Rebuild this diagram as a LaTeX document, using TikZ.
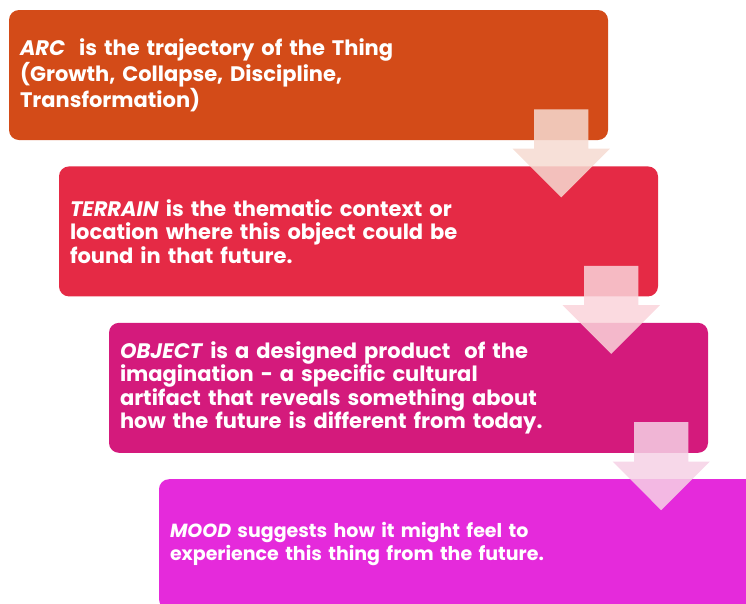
\documentclass[tikz,border=0pt]{standalone}
\usepackage{fontspec}
\setmainfont{Poppins}
\usetikzlibrary{positioning,shapes.arrows,calc}
\definecolor{arccol}{RGB}{211,75,24}
\definecolor{terraincol}{RGB}{229,42,69}
\definecolor{objectcol}{RGB}{212,26,124}
\definecolor{moodcol}{RGB}{229,42,219}
\tikzset{
    stage/.style={rounded corners=10pt, minimum width=599pt, minimum height=130pt,
        text width=577pt, inner xsep=11pt, inner ysep=0pt, align=left, text=white,
        font=\bfseries\fontsize{21}{23.5}\selectfont},
    flow/.style={single arrow, rotate=-90, anchor=tail, minimum height=88pt, minimum width=97pt,
        single arrow head extend=21.5pt, single arrow head indent=0pt,
        inner xsep=0pt, inner ysep=27pt, opacity=0.85}
}

\begin{document}
\begin{tikzpicture}[x=1pt, y=-1pt]
    \clip (0,0) rectangle (746,603);
    \node[stage, fill=arccol] (arc) at (308.5,75)
        {\textit{ARC}~ is the trajectory of the Thing\\(Growth, Collapse, Discipline,\\Transformation)};
    \node[stage, fill=terraincol, below=26pt of arc, xshift=50pt] (terrain)
        {\textit{TERRAIN} is the thematic context or\\location where this object could be\\found in that future.};
    \node[stage, fill=objectcol, below=26pt of terrain, xshift=50pt] (object)
        {\textit{OBJECT} is a designed product~ of the\\imagination - a specific cultural\\artifact that reveals something about\\how the future is different from today.};
    \node[stage, fill=moodcol, below=26pt of object, xshift=50pt,
          font=\bfseries\fontsize{19}{23.5}\selectfont] (mood)
        {\textit{MOOD} suggests how it might feel to\\experience this thing from the future.};
    % down arrows between the stages
    \node[flow, fill=arccol!20!white] (arcdown) at ($(arc.south east)+(-47,-31)$) {};
    \node[flow, fill=terraincol!20!white] (terraindown) at ($(terrain.south east)+(-47,-31)$) {};
    \node[flow, fill=objectcol!20!white] (objectdown) at ($(object.south east)+(-47,-31)$) {};
\end{tikzpicture}
\end{document}
